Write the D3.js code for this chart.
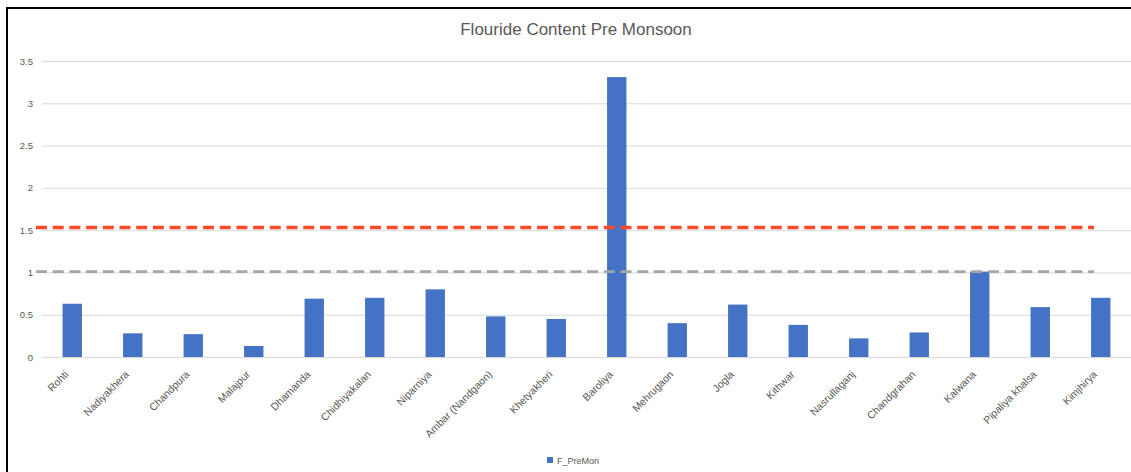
<!DOCTYPE html>
<html>
<head>
<meta charset="utf-8">
<script src="https://cdn.jsdelivr.net/npm/d3@7"></script>
<style>
  html, body { margin: 0; padding: 0; background: #ffffff; }
  svg { display: block; }
</style>
</head>
<body>
<svg id="chart" width="1131" height="472"></svg>
<script>
// Village names along the x axis
const villages = [
  "Rohti", "Nadiyakhera", "Chandpura", "Malajpur", "Dhamanda", "Chidhiyakalan",
  "Niparniya", "Ambar (Nandgaon)", "Khetyakheri", "Baroliya", "Mehrugaon", "Jogla",
  "Kithwar", "Nasrullaganj", "Chandgrahan", "Kalwana", "Pipaliya khalsa", "Kimjhirya"
];

// Fluoride concentration, pre-monsoon sampling (mg/L)
const fPreMon = [
  0.63, 0.28, 0.27, 0.13, 0.69, 0.70,
  0.80, 0.48, 0.45, 3.31, 0.40, 0.62,
  0.38, 0.22, 0.29, 1.01, 0.59, 0.70
];

// Reference limit lines
const limitNames = ["permissible", "desirable"];
const limitValues = [1.53, 1.01];
const limitColors = ["#ff4a2a", "#a6a6a6"];

// Axis ticks
const yTicks = [0, 0.5, 1, 1.5, 2, 2.5, 3, 3.5];

const seriesName = "F_PreMon";
const chartTitle = "Flouride Content Pre Monsoon";

const svg = d3.select("#chart");
const W = 1131, H = 472;
const FONT = "'Liberation Sans', Arial, sans-serif";
const TEXT = "#595959";
const BAR = "#4472c4";

const plot = { left: 42, right: 1131, top: 61, bottom: 357 };

const x = d3.scaleBand()
  .domain(villages)
  .range([plot.left, plot.right])
  .paddingInner(0.68)
  .paddingOuter(0.34);

const y = d3.scaleLinear()
  .domain([0, 3.5])
  .range([plot.bottom, plot.top]);

// Frame: heavy rule along top and left
svg.append("line")
  .attr("x1", 6).attr("x2", W).attr("y1", 8).attr("y2", 8)
  .attr("stroke", "#000").attr("stroke-width", 2);
svg.append("line")
  .attr("x1", 7).attr("x2", 7).attr("y1", 7).attr("y2", H)
  .attr("stroke", "#000").attr("stroke-width", 2);

// Title
svg.append("text")
  .attr("x", 576).attr("y", 35)
  .attr("text-anchor", "middle")
  .attr("font-family", FONT).attr("font-size", 17)
  .attr("fill", TEXT)
  .text(chartTitle);

// Y axis with gridlines
const yAxis = d3.axisLeft(y)
  .tickValues(yTicks)
  .tickFormat(d3.format("~g"))
  .tickSize(-(plot.right - plot.left))
  .tickPadding(9);

const gy = svg.append("g")
  .attr("transform", `translate(${plot.left},0)`)
  .call(yAxis);
gy.select(".domain").remove();
gy.selectAll(".tick line").attr("stroke", "#d9d9d9").attr("stroke-width", 1);
gy.selectAll(".tick text")
  .attr("font-family", FONT).attr("font-size", 9.5)
  .attr("fill", TEXT);

// Bars
svg.append("g").selectAll("rect")
  .data(villages.map((v, i) => ({ v, val: fPreMon[i] })))
  .join("rect")
  .attr("x", d => x(d.v))
  .attr("width", x.bandwidth())
  .attr("y", d => y(d.val))
  .attr("height", d => y(0) - y(d.val))
  .attr("fill", BAR);

// Dashed limit lines
const lastBand = x(villages[villages.length - 1]);
svg.append("g").selectAll("line")
  .data(limitNames.map((n, i) => ({ n, v: limitValues[i], c: limitColors[i] })))
  .join("line")
  .attr("x1", plot.left - 6)
  .attr("x2", lastBand + 3)
  .attr("y1", d => y(d.v))
  .attr("y2", d => y(d.v))
  .attr("stroke", d => d.c)
  .attr("stroke-width", d => d.n === "permissible" ? 3.5 : 2.8)
  .attr("stroke-dasharray", "11,5.7");

// X axis labels, rotated
const xAxis = d3.axisBottom(x).tickSize(0).tickPadding(0);
const gx = svg.append("g")
  .attr("transform", `translate(0,${plot.bottom})`)
  .call(xAxis);
gx.select(".domain").remove();
gx.selectAll(".tick text")
  .attr("font-family", FONT).attr("font-size", 10.5)
  .attr("fill", TEXT)
  .attr("text-anchor", "end")
  .attr("dy", null)
  .attr("transform", "translate(-3,18) rotate(-45)");

// Legend
const legend = svg.append("g").attr("transform", "translate(547,457)");
legend.append("rect")
  .attr("width", 6).attr("height", 6)
  .attr("fill", BAR);
legend.append("text")
  .attr("x", 10).attr("y", 6.5)
  .attr("font-family", FONT).attr("font-size", 9)
  .attr("fill", TEXT)
  .text(seriesName);
</script>
</body>
</html>
